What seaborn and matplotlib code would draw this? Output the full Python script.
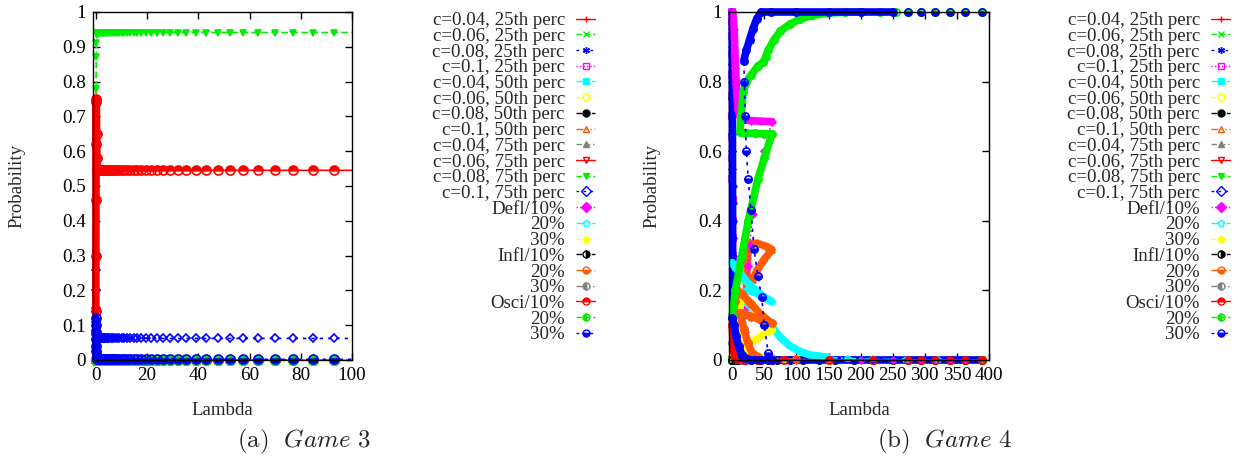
import matplotlib
matplotlib.use("Agg")
import matplotlib.pyplot as plt
from matplotlib.lines import Line2D
import seaborn as sns

# ---------------- legend entries (same in both panels) ----------------
labels = ["c=0.04, 25th perc", "c=0.06, 25th perc", "c=0.08, 25th perc", "c=0.1, 25th perc",
          "c=0.04, 50th perc", "c=0.06, 50th perc", "c=0.08, 50th perc", "c=0.1, 50th perc",
          "c=0.04, 75th perc", "c=0.06, 75th perc", "c=0.08, 75th perc", "c=0.1, 75th perc",
          "Defl/10%", "20%", "30%", "Infl/10%", "20%", "30%", "Osci/10%", "20%", "30%"]

# ---------------- Game 3 (left) ----------------
lam3 = [0, 0.03, 0.06, 0.1, 0.15, 0.2, 0.3, 0.4, 0.5,
        0.6, 0.7, 0.8, 0.9, 1.0, 1.1, 1.25, 1.4, 1.55, 1.7, 1.9, 2.1, 2.3, 2.5, 2.8,
        3.0, 3.3, 3.6, 4.0, 4.4, 4.8, 5.3, 5.8, 6.3, 6.9, 7.6, 8.4, 9.2, 10.1, 11.1,
        12.2, 13.4, 14.8, 16.2, 17.8, 19.6, 21.5, 23.8, 26.4, 29.0, 32.0, 35.3, 39.2,
        43.1, 47.5, 52.2, 57.6, 63.3, 69.8, 77.0, 84.6, 93.1, 102.4]
n_tail3 = len(lam3) - 9
g3_osci10 = [0.14, 0.30, 0.46, 0.62, 0.75, 0.74, 0.65, 0.58, 0.552] + [0.545] * n_tail3
g3_osci30 = [0.12, 0.10, 0.08, 0.06, 0.04, 0.025, 0.012, 0.006, 0.003] + [0.002] * n_tail3
g3_c08_75 = [0.35, 0.52, 0.66, 0.78, 0.87, 0.91, 0.935, 0.94, 0.941] + [0.941] * n_tail3
g3_c1_75 = [0.26, 0.20, 0.15, 0.11, 0.085, 0.072, 0.065, 0.063, 0.062] + [0.062] * n_tail3
g3_flat = [0.0] * len(lam3)   # every other series sits on zero
g3_series = {10: g3_c08_75, 11: g3_c1_75, 18: g3_osci10, 20: g3_osci30}

# ---------------- Game 4 (right) ----------------
lam4c = [0, 0.05, 0.1, 0.15, 0.2, 0.25, 0.3, 0.35, 0.4, 0.45, 0.5, 0.55, 0.6, 0.65, 0.7,
         0.75, 0.8, 0.85, 0.9, 0.95, 1.0, 2, 4, 7, 10, 15, 20, 30, 40, 55, 70, 90, 110,
         135, 160, 190, 220, 250, 274, 294, 316, 339, 363, 389]
g4_c1_75 = [1.0, 0.95, 0.9, 0.85, 0.8, 0.75, 0.7, 0.65, 0.6, 0.55, 0.5, 0.45, 0.4, 0.35,
            0.3, 0.25, 0.2, 0.15, 0.1, 0.05, 0.02] + [0.0] * 23
g4_c1_25 = [1.0, 0.97, 0.93, 0.88, 0.82, 0.76, 0.7, 0.64, 0.58, 0.52, 0.46, 0.4, 0.35,
            0.3, 0.25, 0.2, 0.15, 0.1, 0.06, 0.03, 0.01] + [0.0] * 23
g4_cflat = [0.0] * len(lam4c)

c1_50_lam = [22, 24, 28, 40, 55, 62, 50, 38, 32]
c1_50_val = [0.2, 0.3, 0.335, 0.335, 0.325, 0.317, 0.29, 0.255, 0.23]

defl10_lam = [1, 3, 5, 7, 9, 12, 15, 30, 45, 62, 50, 40, 32, 27, 25, 23, 22, 20, 18,
              25, 40, 60, 100, 150, 200, 250, 274, 294, 316, 339, 363, 389]
defl10_val = [1.0, 0.95, 0.84, 0.77, 0.72, 0.7, 0.69, 0.688, 0.686, 0.685, 0.6, 0.52, 0.42,
              0.33, 0.27, 0.2, 0.15, 0.08, 0.04, 0.02, 0.005, 0, 0, 0, 0, 0, 0, 0, 0, 0, 0, 0]

defl20_lam = [0, 5, 12, 25, 40, 50, 62, 40, 25, 15, 25, 40, 55, 62, 75, 90, 105, 120, 148,
              180, 220, 270, 320, 389]
defl20_val = [0.28, 0.265, 0.25, 0.22, 0.195, 0.18, 0.167, 0.19, 0.2, 0.19, 0.16, 0.13, 0.105,
              0.095, 0.065, 0.04, 0.025, 0.015, 0.008, 0.004, 0.002, 0.001, 0.0, 0.0]

defl30_lam = [0, 5, 10, 14, 25, 39, 50, 62, 50, 36, 20, 25, 35, 50, 80, 150, 389]
defl30_val = [0.0, 0.03, 0.1, 0.19, 0.17, 0.135, 0.11, 0.086, 0.075, 0.057, 0.05, 0.03,
              0.015, 0.005, 0.0, 0.0, 0.0]

infl10_lam = [0, 389]
infl10_val = [0.0, 0.0]

infl20_lam = [0, 4, 8, 15, 30, 45, 62, 45, 30, 15, 12, 18, 24, 31, 40, 60, 100, 150, 389]
infl20_val = [0.1, 0.17, 0.2, 0.19, 0.16, 0.13, 0.105, 0.115, 0.125, 0.135, 0.135, 0.09,
              0.05, 0.02, 0.01, 0.005, 0.002, 0.0, 0.0]

infl30_lam = [0, 3, 6, 15, 62, 389]
infl30_val = [0.05, 0.03, 0.01, 0.0, 0.0, 0.0]

osci10_lam = [0, 1, 2, 4, 8, 20, 40, 62, 40, 18, 40, 80, 150, 220, 274, 294, 316, 339, 363, 389]
osci10_val = [0.1, 0.06, 0.03, 0.01, 0.002, 0, 0, 0, 0, 0, 0, 0, 0, 0, 0, 0, 0, 0, 0, 0]

osci20_lam = [0, 5, 15, 25, 40, 50, 62, 50, 35, 20, 12, 14, 17, 22, 30, 40, 48, 52, 56, 65,
              75, 90, 106, 125, 148, 175, 200, 230, 255, 274, 294, 316, 339, 363, 389]
osci20_val = [0.13, 0.2, 0.3, 0.4, 0.52, 0.58, 0.65, 0.65, 0.651, 0.652, 0.655, 0.7, 0.77,
              0.8, 0.82, 0.845, 0.855, 0.87, 0.89, 0.92, 0.945, 0.965, 0.98, 0.99, 0.997,
              0.999, 1.0, 1.0, 1.0, 1.0, 1.0, 1.0, 1.0, 1.0, 1.0]

osci30_lam = [0, 3, 6, 10, 15, 20, 30, 45, 62, 56, 50, 46, 40, 34, 29, 25, 22, 20, 19, 18,
              22, 27, 32, 38, 45, 60, 100, 150, 200, 250, 274, 294, 316, 339, 363, 389]
osci30_val = [0.12, 0.1, 0.07, 0.04, 0.015, 0.005, 0.0, 0.0, 0.0, 0.02, 0.1, 0.18, 0.24, 0.32,
              0.43, 0.52, 0.6, 0.7, 0.8, 0.86, 0.89, 0.92, 0.95, 0.98, 1.0, 1.0, 1.0, 1.0,
              1.0, 1.0, 1.0, 1.0, 1.0, 1.0, 1.0, 1.0]

g4_paths = {3: (lam4c, g4_c1_25), 7: (c1_50_lam, c1_50_val), 11: (lam4c, g4_c1_75),
            12: (defl10_lam, defl10_val), 13: (defl20_lam, defl20_val),
            14: (defl30_lam, defl30_val), 15: (infl10_lam, infl10_val), 16: (infl20_lam, infl20_val),
            17: (infl30_lam, infl30_val), 18: (osci10_lam, osci10_val), 19: (osci20_lam, osci20_val),
            20: (osci30_lam, osci30_val)}
# parts of each path where gnuplot's points are packed into a solid band
g4_bands = {7: [(0, 9)], 11: [(0, 44)], 12: [(0, 10)], 13: [(0, 19)], 14: [(0, 14)],
            16: [(0, 15)], 17: [(0, 4)], 18: [(0, 5)], 19: [(0, 27)], 20: [(0, 9), (19, 30)]}
g3_bands = {18: [(0, 9)], 20: [(0, 9)]}

# ---------------- gnuplot-like styles ----------------
colors9 = ['#ff0000', '#00ee00', '#0000ff', '#ff00ff', '#00ffff', '#ffff00', '#000000', '#ff5a00', '#808080']
dashes9 = ['-', (0, (4, 2)), (0, (2, 3)), (0, (1, 1.5)), (0, (6, 2, 1, 2)), (0, (3, 2, 1, 2)),
           (0, (4, 3, 1, 3)), (0, (5, 2, 1, 2, 1, 2)), (0, (4, 2, 1, 2, 1, 2, 1, 2))]
markers21 = [('+', 'full'), ('x', 'full'), ((6, 2, 0), 'full'), ('s', 'none'), ('s', 'full'),
             ('o', 'none'), ('o', 'full'), ('^', 'none'), ('^', 'full'), ('v', 'none'),
             ('v', 'full'), ('D', 'none'), ('D', 'full'), ('p', 'none'), ('p', 'full'),
             ('o', 'right'), ('o', 'bottom'), ('o', 'left'), ('o', 'top'), ('o', 'left'),
             ('o', 'bottom')]
msize = {'o': 6.5, '^': 4.8, 'v': 4.8, 'D': 4.3, 's': 4.8, 'p': 5.0}

sns.set_style("ticks")
plt.rcParams['font.family'] = ['Liberation Serif', 'DejaVu Serif']
plt.rcParams['mathtext.fontset'] = 'cm'

fig = plt.figure(figsize=(12.41, 4.66), dpi=100)
ax3 = fig.add_axes([93 / 1241, 1 - 360 / 466, 259 / 1241, 348 / 466])
ax4 = fig.add_axes([729 / 1241, 1 - 360 / 466, 260 / 1241, 348 / 466])


def draw(ax, x, y, i, xmax, bands=(), scale=1.0):
    col = colors9[i % 9]
    mk, fs = markers21[i]
    ms = msize.get(mk, 5.0) * scale
    sns.lineplot(x=x, y=y, ax=ax, sort=False, estimator=None, color=col,
                 linewidth=1.2, linestyle=dashes9[i % 9])
    for a, b in bands:
        sns.lineplot(x=x[a:b], y=y[a:b], ax=ax, sort=False, estimator=None, color=col,
                     linewidth=5.5, linestyle='-', clip_on=False)
    xs = [p for p, q in zip(x, y) if p <= xmax]
    ys = [q for p, q in zip(x, y) if p <= xmax]
    sns.lineplot(x=xs, y=ys, ax=ax, sort=False, estimator=None, color=col,
                 linestyle='none', marker=mk, fillstyle=fs, markersize=ms,
                 markeredgecolor=col, markerfacecolor=col, markeredgewidth=1.2,
                 clip_on=False)


for i in range(21):
    draw(ax3, lam3, g3_series.get(i, g3_flat), i, 100, g3_bands.get(i, ()))

for i in range(21):
    x, y = g4_paths.get(i, (lam4c, g4_cflat))
    draw(ax4, x, y, i, 400, g4_bands.get(i, ()), scale=0.8)

xt3 = [0, 20, 40, 60, 80, 100]
yt3 = [0, 0.1, 0.2, 0.3, 0.4, 0.5, 0.6, 0.7, 0.8, 0.9, 1]
xt4 = [0, 50, 100, 150, 200, 250, 300, 350, 400]
yt4 = [0, 0.2, 0.4, 0.6, 0.8, 1]

for ax, xt, yt, xl in ((ax3, xt3, yt3, (-1.1, 100)), (ax4, xt4, yt4, (-5, 400))):
    ax.set_xlim(*xl)
    ax.set_ylim(0, 1)
    ax.set_xticks(xt, [f"{v:g}" for v in xt])
    ax.set_yticks(yt, [f"{v:g}" for v in yt])
    ax.tick_params(direction='in', top=True, right=True, length=5, width=1,
                   labelsize=13.8, pad=5, colors='black')
    for s in ax.spines.values():
        s.set_color('black')
        s.set_linewidth(1.0)
        s.set_zorder(3)
    ax.set_xlabel("Lambda", fontsize=13.6)
    ax.set_ylabel("Probability", fontsize=13.6)
    ax.yaxis.set_label_coords(-0.262, 0.5)
    ax.xaxis.set_label_coords(0.5, -0.12)

handles = []
for i in range(21):
    mk, fs = markers21[i]
    handles.append(Line2D([], [], color=colors9[i % 9], linestyle=dashes9[i % 9], linewidth=1.0,
                          marker=mk, fillstyle=fs, markersize=5, markeredgewidth=1.0))

for xr in (595 / 1241, 1230 / 1241):
    fig.legend(handles, labels, loc='upper right', bbox_to_anchor=(xr, 1 - 12 / 466),
               bbox_transform=fig.transFigure, frameon=False, markerfirst=False,
               fontsize=13.6, labelspacing=-0.08, handlelength=1.0, handletextpad=0.6,
               borderpad=0, borderaxespad=0)

fig.text(304 / 1241, 1 - 441 / 466, r"$\mathrm{(a)}\ \ \mathit{Game\ 3}$", fontsize=18,
         ha='center', va='center')
fig.text(945 / 1241, 1 - 441 / 466, r"$\mathrm{(b)}\ \ \mathit{Game\ 4}$", fontsize=18,
         ha='center', va='center')

fig.savefig("out.png", dpi=100)
